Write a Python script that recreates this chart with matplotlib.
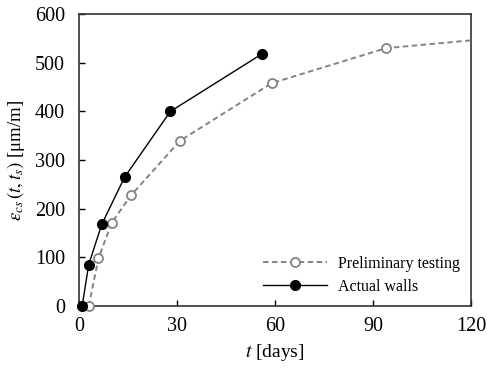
import matplotlib
matplotlib.use('Agg')
import matplotlib.pyplot as plt

# --- data ---
t_prelim = [3, 6, 10, 16, 31, 59, 94, 120]
eps_prelim = [0, 98, 171, 228, 340, 458, 530, 546]
t_walls = [1, 3, 7, 14, 28, 56]
eps_walls = [0, 85, 168, 265, 400, 518]

plt.rcParams['font.family'] = 'Liberation Serif'
plt.rcParams['mathtext.fontset'] = 'stix'
plt.rcParams['font.size'] = 11

fig = plt.figure(figsize=(4.87, 3.71), dpi=100)
ax = fig.add_axes([0.162, 0.175, 0.805, 0.787])

grey = '#848484'
ax.plot(t_prelim, eps_prelim, '--o', color=grey, mfc='white', mec=grey,
        ms=6.5, mew=1.3, lw=1.4, dashes=(2.8, 1.8),
        markevery=list(range(len(t_prelim) - 1)),
        label='Preliminary testing', clip_on=False, zorder=3)
ax.plot(t_walls, eps_walls, '-o', color='black', mfc='black', ms=7, lw=1.0,
        label='Actual walls', clip_on=False, zorder=4)

ax.set_xlim(0, 120)
ax.set_ylim(0, 600)
ax.set_xticks([0, 30, 60, 90, 120])
ax.set_yticks(range(0, 601, 100))
ax.tick_params(direction='in', length=4, width=1, labelsize=14.5)
ax.tick_params(axis='x', pad=8)
ax.tick_params(axis='y', pad=10)
for s in ax.spines.values():
    s.set_color('#333333')
    s.set_linewidth(1.2)

ax.set_xlabel(r'$t$ [days]', fontsize=14)
ax.set_ylabel(r'$\varepsilon_{cs}\,(t,t_s)$ [μm/m]', fontsize=13.5, labelpad=6)

ax.legend(loc='lower right', frameon=False, fontsize=11.5, handlelength=4,
          handletextpad=0.7, borderaxespad=0.3, labelspacing=0.45)

fig.savefig('out.png', dpi=100)
